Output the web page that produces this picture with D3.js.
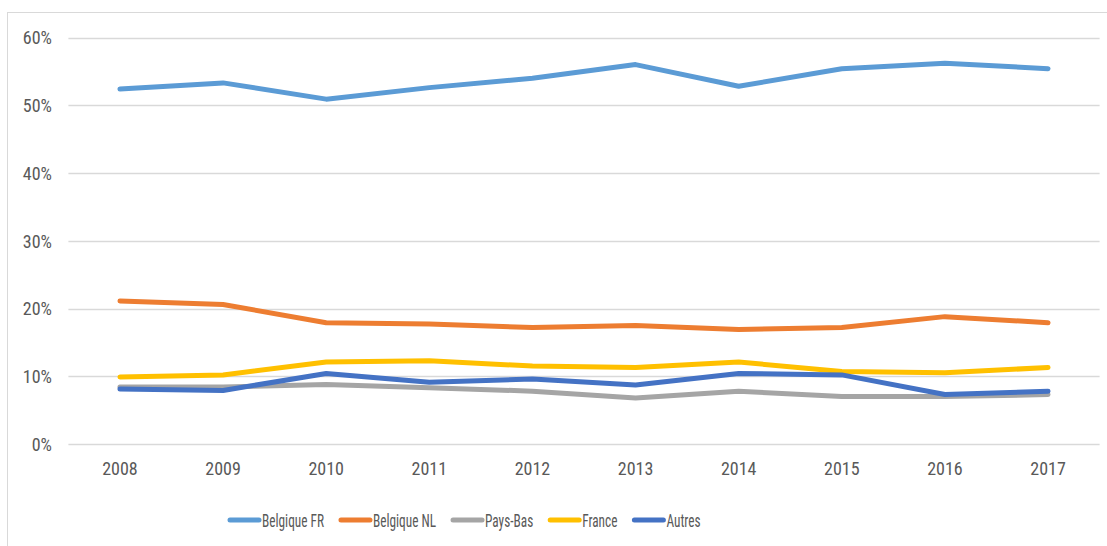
<!DOCTYPE html>
<html><head><meta charset="utf-8">
<script src="https://cdn.jsdelivr.net/npm/d3@7"></script>
<style>
body{margin:0;background:#fff;}
svg{display:block;}
text{font-family:"Liberation Sans Narrow","Arial Narrow","Roboto Condensed","Liberation Sans",sans-serif;fill:#595959;}
</style></head>
<body>
<svg id="chart" width="1107" height="546"></svg>
<script>
const years = ["2008","2009","2010","2011","2012","2013","2014","2015","2016","2017"];
const belgiqueFR = [52.4, 53.3, 50.9, 52.6, 54.0, 56.0, 52.8, 55.4, 56.2, 55.4];
const belgiqueNL = [21.1, 20.6, 17.9, 17.7, 17.2, 17.5, 16.9, 17.2, 18.8, 17.9];
const paysBas    = [8.4, 8.4, 8.8, 8.3, 7.8, 6.8, 7.8, 7.0, 7.0, 7.3];
const france     = [9.9, 10.2, 12.1, 12.3, 11.5, 11.3, 12.1, 10.7, 10.5, 11.3];
const autres     = [8.1, 7.9, 10.4, 9.1, 9.6, 8.7, 10.4, 10.2, 7.3, 7.8];
const yTicks = [0, 10, 20, 30, 40, 50, 60];
const seriesNames = ["Belgique FR","Belgique NL","Pays-Bas","France","Autres"];
const seriesColors = ["#5B9BD5","#ED7D31","#A5A5A5","#FFC000","#4472C4"];

const series = [belgiqueFR, belgiqueNL, paysBas, france, autres].map((v,i)=>({name:seriesNames[i], color:seriesColors[i], values:v}));

const svg = d3.select("#chart");
// chart border
svg.append("rect").attr("x",7.5).attr("y",12.5).attr("width",1107).attr("height",546)
  .attr("fill","none").attr("stroke","#d9d9d9").attr("stroke-width",1);

const x = d3.scaleBand().domain(years).range([68.4, 1099.6]);
const y = d3.scaleLinear().domain([0, 60]).range([444, 37.5]);

// gridlines
svg.append("g").selectAll("line").data(yTicks).join("line")
  .attr("x1", 68.4).attr("x2", 1099.6)
  .attr("y1", d=>Math.round(y(d))+0.5).attr("y2", d=>Math.round(y(d))+0.5)
  .attr("stroke","#d9d9d9").attr("stroke-width",1.3);

// y axis labels
const yAxis = d3.axisLeft(y).tickValues(yTicks).tickFormat(d=>d+"%").tickSize(0).tickPadding(0);
const gy = svg.append("g").attr("transform","translate(52,0)").call(yAxis);
gy.select(".domain").remove();
gy.selectAll("text").attr("font-size",18).style("font-family",null).attr("dy","0.36em");

// x axis labels
const xAxis = d3.axisBottom(x).tickSize(0).tickPadding(0);
const gx = svg.append("g").attr("transform","translate(0,462)").call(xAxis);
gx.select(".domain").remove();
gx.selectAll("text").attr("font-size",18).style("font-family",null).attr("dy","0.72em");

// lines
const line = d3.line().x((d,i)=>x(years[i]) + x.bandwidth()/2).y(d=>y(d));
svg.append("g").selectAll("path").data(series).join("path")
  .attr("d", d=>line(d.values))
  .attr("fill","none").attr("stroke", d=>d.color).attr("stroke-width",5)
  .attr("stroke-linejoin","round").attr("stroke-linecap","round");

// legend
const lg = svg.append("g");
const fs = 19;
// measure to condense text horizontally like the reference
const probe = lg.append("text").attr("font-size",fs).text(seriesNames[0]);
const k = 62 / probe.node().getComputedTextLength();
probe.remove();
let cx = 230;
series.forEach(s=>{
  lg.append("line").attr("x1",cx).attr("x2",cx+29).attr("y1",520).attr("y2",520)
    .attr("stroke",s.color).attr("stroke-width",5).attr("stroke-linecap","round");
  const gT = lg.append("g").attr("transform",`translate(${cx+32},520) scale(${k},1)`);
  const t = gT.append("text").attr("x",0).attr("y",0).attr("dy","0.36em")
    .attr("font-size",fs).text(s.name);
  const w = t.node().getComputedTextLength() * k;
  cx = cx + 32 + w + 17;
});
</script>
</body></html>
